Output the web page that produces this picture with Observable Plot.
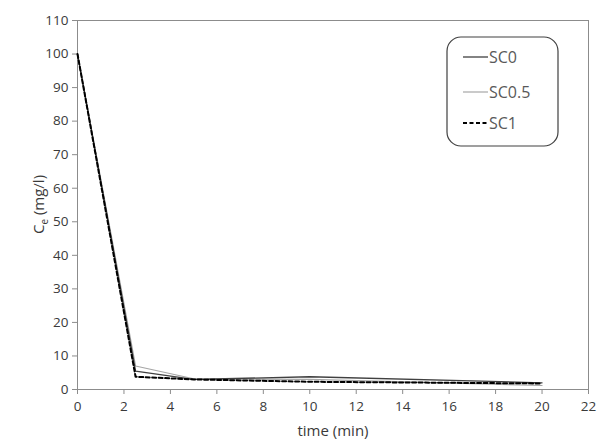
<!DOCTYPE html>
<html><head><meta charset="utf-8">
<script src="https://cdn.jsdelivr.net/npm/d3@7"></script>
<script src="https://cdn.jsdelivr.net/npm/@observablehq/plot@0.6"></script>
<style>
html,body{margin:0;padding:0;background:#fff;}
#chart{position:relative;width:599px;height:444px;}
</style>
</head><body><div id="chart"></div>
<script>
const time = [0, 2.5, 5, 10, 20];
const sc0 = [100, 5.5, 3.0, 3.8, 2.0];
const sc05 = [100, 7.0, 3.2, 3.0, 1.2];
const sc1 = [100, 3.8, 3.0, 2.3, 1.8];
const seriesNames = ["SC0", "SC0.5", "SC1"];
const xTicks = d3.range(0, 23, 2);
const yTicks = d3.range(0, 111, 10);

const rows = (vals, name) => time.map((t, i) => ({t, v: vals[i], s: name}));
const d0 = rows(sc0, seriesNames[0]);
const d05 = rows(sc05, seriesNames[1]);
const d1 = rows(sc1, seriesNames[2]);

const font = "'Open Sans', 'Liberation Sans', sans-serif";
const W = 599, H = 444, ml = 77, mr = 11, mt = 20, mb = 55;

const plot = Plot.plot({
  width: W, height: H,
  marginLeft: ml, marginRight: mr, marginTop: mt, marginBottom: mb,
  style: {fontFamily: font, fontSize: "13px", color: "#595959", background: "#fff"},
  x: {domain: [0, 22], ticks: xTicks, label: null},
  y: {domain: [0, 110], ticks: yTicks, label: null},
  marks: [
    Plot.frame({stroke: "#8c8c8c", strokeWidth: 1}),
    Plot.axisX({ticks: xTicks, tickSize: 5, tickPadding: 7, stroke: "#8c8c8c", fill: "#3a3a3a", fontSize: 13.5, label: null}),
    Plot.axisY({ticks: yTicks, tickSize: 5, tickPadding: 4, stroke: "#8c8c8c", fill: "#3a3a3a", fontSize: 13.5, label: null}),
    Plot.line(d05, {x: "t", y: "v", stroke: "#a6a6a6", strokeWidth: 1.2}),
    Plot.line(d0, {x: "t", y: "v", stroke: "#404040", strokeWidth: 1.3}),
    Plot.line(d1, {x: "t", y: "v", stroke: "#000", strokeWidth: 2, strokeDasharray: "4,2.5"}),
    Plot.text(["time (min)"], {frameAnchor: "bottom", dy: 46, fontSize: 15, fill: "#3a3a3a"})
  ]
});
document.getElementById("chart").appendChild(plot);

const svg = d3.select(plot);
// y label with subscript
const yl = svg.append("text")
  .attr("transform", `translate(44,${mt + (H - mt - mb) / 2}) rotate(-90)`)
  .attr("text-anchor", "middle")
  .attr("font-family", font).attr("font-size", 15).attr("fill", "#3a3a3a");
yl.append("tspan").text("C");
yl.append("tspan").attr("font-size", 10).attr("dy", 4).text("e");
yl.append("tspan").attr("dy", -4).text(" (mg/l)");

// legend
const lg = svg.append("g").attr("transform", "translate(447,37)");
lg.append("rect").attr("width", 111).attr("height", 109).attr("rx", 14).attr("ry", 14)
  .attr("fill", "#fff").attr("stroke", "#404040").attr("stroke-width", 1.2);
const styles = [
  {stroke: "#404040", w: 1.3, dash: null},
  {stroke: "#a6a6a6", w: 1.2, dash: null},
  {stroke: "#000", w: 2, dash: "4,2.5"}
];
const ys = [20, 55, 86];
seriesNames.forEach((n, i) => {
  const g = lg.append("g").attr("transform", `translate(0,${ys[i]})`);
  g.append("line").attr("x1", 16).attr("x2", 41).attr("y1", 0).attr("y2", 0)
    .attr("stroke", styles[i].stroke).attr("stroke-width", styles[i].w)
    .attr("stroke-dasharray", styles[i].dash);
  g.append("text").attr("x", 42).attr("y", 0).attr("dy", "0.35em")
    .attr("text-anchor", "start")
    .attr("font-family", font).attr("font-size", 16).attr("fill", "#595959").text(n);
});
</script>
</body></html>
